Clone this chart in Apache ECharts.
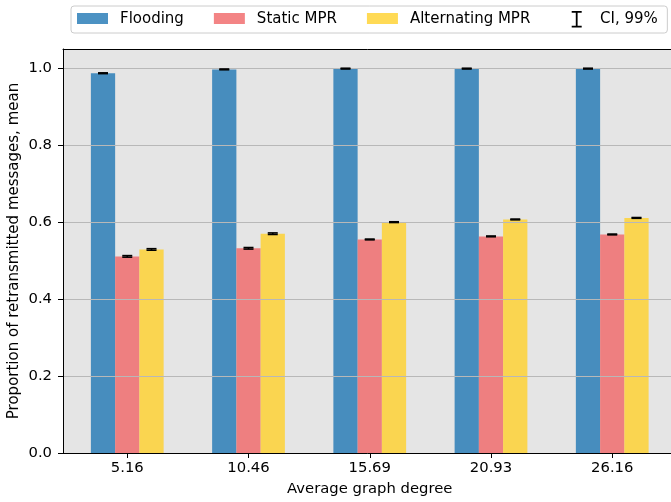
<!DOCTYPE html>
<html>
<head>
<meta charset="utf-8">
<script src="https://cdn.jsdelivr.net/npm/echarts@6/dist/echarts.min.js"></script>
<style>html,body{margin:0;padding:0;background:#fff;}#c{width:671px;height:502px;}</style>
</head>
<body>
<div id="c"></div>
<script>
const degreeLabels = ['5.16', '10.46', '15.69', '20.93', '26.16'];
const flooding = [0.987, 0.997, 0.999, 0.999, 0.999];
const staticMPR = [0.511, 0.532, 0.555, 0.563, 0.568];
const alternatingMPR = [0.529, 0.570, 0.600, 0.607, 0.611];
const ciFlooding = [0.001, 0.001, 0.001, 0.001, 0.001];
const ciStatic = [0.002, 0.002, 0.001, 0.001, 0.001];
const ciAlternating = [0.002, 0.002, 0.001, 0.001, 0.001];
const yTicks = [0, 0.2, 0.4, 0.6, 0.8, 1.0];

const FONT = 'DejaVu Sans';
const idx = degreeLabels.map((_, i) => i);
const groups = [
  { name: 'Flooding', values: flooding, ci: ciFlooding, color: 'rgba(31,119,180,0.8)' },
  { name: 'Static MPR', values: staticMPR, ci: ciStatic, color: 'rgba(240,101,103,0.8)' },
  { name: 'Alternating MPR', values: alternatingMPR, ci: ciAlternating, color: 'rgba(255,209,42,0.8)' }
];

const barSeries = groups.map(g => ({
  name: g.name,
  type: 'bar',
  barWidth: '20%',
  barGap: '0%',
  data: g.values.map((v, i) => [i, v]),
  itemStyle: { color: g.color },
  emphasis: { disabled: true },
  z: 2
}));

const errData = [];
groups.forEach((g, s) => {
  g.values.forEach((v, i) => errData.push([i, s, v, g.ci[i]]));
});

const errSeries = {
  name: 'CI, 99%',
  type: 'custom',
  itemStyle: { color: '#000' },
  data: errData,
  z: 10,
  renderItem: function (params, api) {
    const x = api.value(0) + (api.value(1) - 1) * 0.2;
    const m = api.value(2), h = api.value(3);
    const top = api.coord([x, m + h]);
    const bot = api.coord([x, m - h]);
    const cw = 5;
    const st = { stroke: '#000', lineWidth: 1.6 };
    return {
      type: 'group',
      children: [
        { type: 'line', shape: { x1: top[0], y1: top[1], x2: bot[0], y2: bot[1] }, style: st },
        { type: 'line', shape: { x1: top[0] - cw, y1: top[1], x2: top[0] + cw, y2: top[1] }, style: st },
        { type: 'line', shape: { x1: bot[0] - cw, y1: bot[1], x2: bot[0] + cw, y2: bot[1] }, style: st }
      ]
    };
  }
};

const swatchIcon = 'path://M0,0h0.01v0.01h-0.01z M38,14h-0.01v-0.01h0.01z M0,0.5h31v11h-31z';
const ciIcon = 'path://M0,0h10v1.8h-10z M4.1,0h1.8v16.5h-1.8z M0,14.7h10v1.8h-10z M23.3,16.5h-0.01v-0.01h0.01z';

const chart = echarts.init(document.getElementById('c'), null, { renderer: 'canvas' });
chart.setOption({
  animation: false,
  backgroundColor: '#fff',
  textStyle: { fontFamily: FONT },
  grid: {
    left: 63, top: 49, width: 613.5, height: 404,
    outerBoundsMode: 'none', containLabel: false,
    show: true, backgroundColor: '#e5e5e5', borderWidth: 0
  },
  legend: [
    {
      data: groups.map(g => ({ name: g.name, icon: swatchIcon })),
      left: 71, top: 6,
      padding: [6, 137, 6, 6],
      itemWidth: 38, itemHeight: 14, itemGap: 30,
      borderColor: '#cccccc', borderWidth: 1, borderRadius: 3,
      backgroundColor: '#fff',
      selectedMode: false,
      textStyle: { fontSize: 15, color: '#000', fontFamily: FONT }
    },
    {
      data: [{ name: 'CI, 99%', icon: ciIcon }],
      left: 571.7, top: 11,
      padding: 0,
      itemWidth: 23.3, itemHeight: 16.5,
      selectedMode: false,
      textStyle: { fontSize: 15, color: '#000', fontFamily: FONT }
    }
  ],
  xAxis: [
    {
      type: 'value', min: -0.53, max: 4.53, position: 'bottom',
      axisLine: { show: true, onZero: false, lineStyle: { color: '#000', width: 1 } },
      axisTick: { show: true, customValues: idx, length: 5, lineStyle: { color: '#000', width: 1 } },
      axisLabel: {
        customValues: idx, formatter: v => degreeLabels[Math.round(v)],
        fontSize: 14.8, color: '#000', margin: 8, fontFamily: FONT
      },
      splitLine: { show: false },
      name: 'Average graph degree', nameLocation: 'middle', nameGap: 29,
      nameMoveOverlap: false,
      nameTextStyle: { fontSize: 14.8, color: '#000', fontFamily: FONT },
      z: 5
    },
    {
      type: 'value', min: -0.53, max: 4.53, position: 'top',
      axisLine: { show: true, onZero: false, lineStyle: { color: '#000', width: 1 } },
      axisTick: { show: false }, axisLabel: { show: false }, splitLine: { show: false },
      z: 5
    }
  ],
  yAxis: {
    type: 'value', min: 0, max: 1.05, interval: 0.2,
    axisLine: { show: true, onZero: false, lineStyle: { color: '#000', width: 1 } },
    axisTick: { show: true, customValues: yTicks, length: 5, lineStyle: { color: '#000', width: 1 } },
    axisLabel: {
      customValues: yTicks, formatter: v => v.toFixed(1),
      fontSize: 14.8, color: '#000', margin: 11, fontFamily: FONT
    },
    splitLine: { show: true, lineStyle: { color: '#b8b8b8', width: 1.2 } },
    name: 'Proportion of retransmitted messages, mean',
    nameLocation: 'middle', nameGap: 41,
    nameMoveOverlap: false,
    nameTextStyle: { fontSize: 15, color: '#000', fontFamily: FONT },
    z: 5
  },
  series: [...barSeries, errSeries]
});
</script>
</body>
</html>
